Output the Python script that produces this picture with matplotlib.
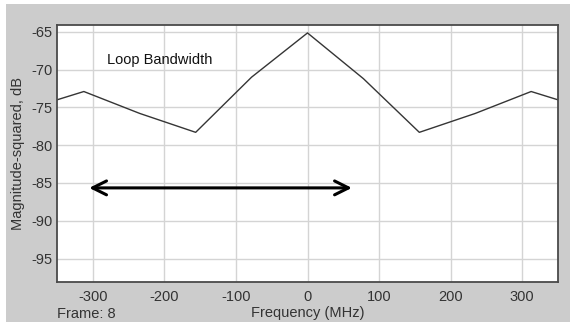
import matplotlib.pyplot as plt
from matplotlib.patches import Rectangle

plt.rcParams['axes.unicode_minus'] = False

freq_mhz = [-350, -312.5, -234.375, -156.25, -78.125, 0, 78.125, 156.25, 234.375, 312.5, 350]
mag_db = [-74.0, -72.9, -75.8, -78.3, -71.0, -65.15, -71.2, -78.3, -75.8, -72.9, -74.0]

x_ticks = [-300, -200, -100, 0, 100, 200, 300]
y_ticks = [-95, -90, -85, -80, -75, -70, -65]

bw_start, bw_end, bw_level = -305, 62, -85.65

sans = ['Liberation Sans', 'DejaVu Sans']

fig = plt.figure(figsize=(5.7, 3.22), dpi=100)
fig.patch.set_facecolor('white')
fig.patches.append(Rectangle((6 / 570, 0), 1, (322 - 4) / 322, transform=fig.transFigure,
                             facecolor='#cccccc', edgecolor='none', zorder=-10))

ax = fig.add_axes([57 / 570, 40 / 322, (558 - 57) / 570, (282 - 25) / 322])
ax.set_facecolor('white')
ax.plot(freq_mhz, mag_db, color='#353535', lw=1.0)

ax.set_xlim(-350, 350)
ax.set_ylim(-98.1, -64.1)
ax.set_xticks(x_ticks)
ax.set_yticks(y_ticks)
ax.grid(True, color='#d4d4d4', lw=1.0)
ax.set_axisbelow(True)
ax.tick_params(length=0, labelcolor='#333333', labelsize=10.5)
ax.tick_params(axis='y', pad=3.5)
ax.tick_params(axis='x', pad=6)
for lab in ax.get_xticklabels() + ax.get_yticklabels():
    lab.set_family(sans)
for s in ax.spines.values():
    s.set_color('#4a4a4a')
    s.set_linewidth(1.3)

ax.set_ylabel('Magnitude-squared, dB', family=sans, fontsize=10.5, color='#333333', labelpad=4)

ax.text(-280, -68.7, 'Loop Bandwidth', family=sans,
        fontsize=10.5, color='#111111', ha='left', va='center')

ax.annotate('', xy=(bw_start, bw_level), xytext=(bw_end, bw_level),
            arrowprops=dict(arrowstyle='<->,head_length=1.0,head_width=0.5',
                            color='black', lw=2.2, shrinkA=0, shrinkB=0))

fig.text(307.5 / 570, (322 - 306) / 322, 'Frequency (MHz)', family=sans, fontsize=10.5,
         color='#333333', ha='center', va='top')
fig.text(57 / 570, (322 - 307) / 322, 'Frame: 8', family=sans, fontsize=10.5,
         color='#333333', ha='left', va='top')

fig.savefig('out.png', dpi=100, facecolor=fig.get_facecolor())
